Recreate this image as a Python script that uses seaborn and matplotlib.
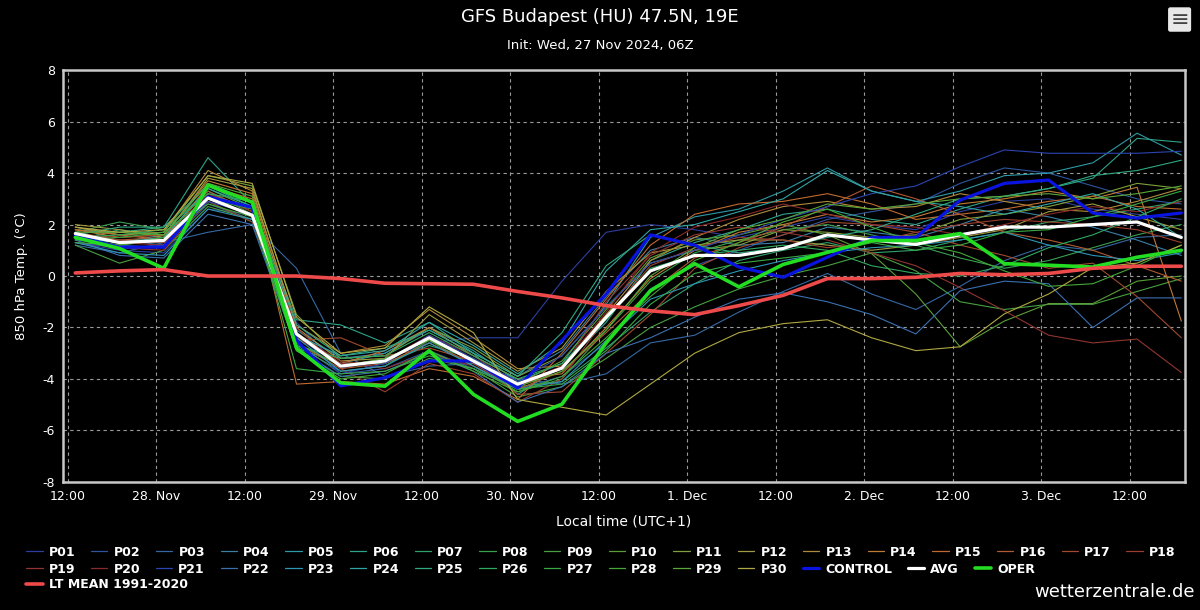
import numpy as np
import pandas as pd
import matplotlib
matplotlib.use("Agg")
import matplotlib.pyplot as plt
from matplotlib.lines import Line2D
import seaborn as sns

# 6-hourly forecast steps, local time (UTC+1)
times = pd.date_range("2024-11-27 13:00", periods=26, freq="6h")

control = [1.55, 1.12, 1.12, 3.07, 2.67, -2.5, -4.27, -3.95, -3.3, -3.3, -4.35, -2.5, -0.7,
           1.6, 1.2, 0.35, -0.05, 0.73, 1.5, 1.5, 2.95, 3.6, 3.73, 2.45, 2.25, 2.45]
avg = [1.65, 1.3, 1.38, 3.03, 2.36, -2.25, -3.5, -3.3, -2.4, -3.3, -4.2, -3.58, -1.6,
       0.2, 0.8, 0.8, 1.07, 1.6, 1.4, 1.23, 1.6, 1.9, 1.9, 2.0, 2.1, 1.5]
oper = [1.5, 1.07, 0.3, 3.53, 2.87, -2.8, -4.15, -4.28, -2.9, -4.6, -5.65, -4.98, -2.6,
        -0.57, 0.48, -0.42, 0.45, 0.92, 1.38, 1.38, 1.65, 0.48, 0.42, 0.35, 0.73, 1.0]
lt_mean = [0.12, 0.2, 0.25, 0.0, 0.0, 0.0, -0.1, -0.28, -0.3, -0.32, -0.6, -0.85, -1.15,
           -1.35, -1.5, -1.15, -0.75, -0.1, -0.1, -0.05, 0.1, 0.05, 0.1, 0.3, 0.38, 0.38]

members = {
    "P01": [1.3, 1.0, 0.9, 2.6, 2.4, -1.8, -3.6, -3.2, -2.6, -2.4, -2.4, -0.2, 1.7, 2.0, 1.8, 1.5, 1.9, 2.3, 2.0, 1.8, 2.5, 2.9, 3.0, 2.6, 2.4, 2.2],
    "P02": [1.4, 1.2, 1.1, 2.8, 2.2, -2.6, -3.8, -3.6, -2.9, -3.6, -4.4, -3.9, -2.6, -0.5, 0.4, 1.0, 1.6, 2.2, 2.5, 2.8, 3.6, 4.2, 4.0, 3.5, 3.0, 2.8],
    "P03": [1.2, 0.9, 1.3, 1.7, 2.0, 0.3, -3.0, -3.9, -3.5, -3.4, -4.0, -4.2, -3.8, -2.6, -2.3, -1.4, -0.6, 0.1, -0.7, -1.3, -0.4, 0.6, 1.2, 1.0, 1.5, 1.6],
    "P04": [1.6, 1.4, 1.2, 3.2, 2.6, -2.1, -3.2, -3.0, -2.1, -3.0, -3.9, -2.9, -0.8, 1.0, 1.5, 1.2, 1.3, 1.9, 1.7, 1.5, 2.0, 2.6, 2.3, 1.9, 1.4, 0.8],
    "P05": [1.5, 1.3, 1.6, 3.6, 2.9, -2.8, -3.4, -3.0, -2.0, -2.9, -4.1, -3.4, -1.1, 1.5, 2.3, 2.6, 3.3, 4.2, 3.3, 2.9, 3.3, 3.9, 4.0, 4.4, 5.55, 4.7],
    "P06": [1.8, 1.7, 1.9, 4.6, 2.8, -1.7, -1.9, -2.6, -1.8, -3.0, -4.6, -3.5, -1.8, 0.6, 1.3, 1.8, 2.4, 2.6, 2.2, 2.0, 2.6, 3.1, 3.4, 3.8, 5.35, 5.2],
    "P07": [1.4, 1.8, 1.6, 2.9, 2.1, -2.4, -3.4, -3.4, -2.7, -3.2, -4.3, -4.1, -2.8, -1.4, -0.3, 0.6, 1.0, 1.3, 0.9, 1.0, 1.4, 1.7, 2.1, 2.3, 2.6, 2.9],
    "P08": [1.7, 2.1, 1.8, 3.3, 2.4, -2.7, -3.7, -3.5, -2.5, -3.5, -4.5, -4.0, -2.1, -0.2, 0.9, 1.4, 1.8, 2.0, 1.6, 1.2, 0.7, 0.3, 0.6, 1.1, 1.6, 2.0],
    "P09": [1.2, 0.5, 1.0, 2.7, 2.2, -2.9, -3.9, -4.0, -3.2, -3.6, -4.7, -4.3, -3.2, -2.0, -1.2, -0.5, 0.0, 0.4, 0.9, 0.2, -1.0, -1.3, -1.1, -1.1, -0.6, -0.1],
    "P10": [1.5, 1.2, 1.4, 3.4, 2.6, -2.3, -3.5, -3.3, -2.4, -3.3, -4.2, -3.3, -1.3, 0.7, 1.4, 1.6, 2.0, 1.6, 0.87, -0.7, -2.75, -1.75, -1.07, -1.07, -0.2, 0.0],
    "P11": [1.9, 1.6, 1.7, 3.9, 3.5, -1.5, -3.2, -3.1, -2.0, -2.8, -3.9, -3.1, -1.2, 0.5, 1.0, 1.2, 1.8, 1.7, 1.5, 1.6, 2.2, 2.4, 2.7, 3.1, 3.6, 3.4],
    "P12": [2.0, 1.8, 1.5, 3.8, 3.4, -2.0, -3.3, -3.2, -1.5, -2.6, -3.7, -2.8, -0.6, 0.9, 1.2, 1.4, 1.4, 1.2, 1.0, 1.2, 1.5, 1.8, 2.5, 2.8, 2.3, 1.8],
    "P13": [1.9, 1.6, 1.7, 4.1, 3.3, -1.9, -3.0, -2.7, -1.3, -2.4, -3.6, -3.5, -1.5, 0.6, 1.5, 2.2, 2.7, 2.9, 2.6, 2.7, 3.2, 2.9, 2.6, 2.5, 2.9, 3.4],
    "P14": [1.8, 1.5, 1.6, 3.7, 3.2, -2.2, -3.4, -2.9, -2.0, -3.1, -4.0, -3.8, -2.0, -0.1, 1.0, 1.7, 2.0, 2.4, 2.1, 2.3, 2.8, 3.0, 3.3, 3.0, 3.45, -1.75],
    "P15": [1.8, 1.6, 1.4, 3.5, 3.0, -4.2, -4.1, -4.2, -3.6, -3.9, -4.8, -3.0, -0.9, 1.2, 2.4, 2.8, 2.9, 3.2, 2.8, 2.2, 2.4, 2.6, 2.9, 3.1, 2.7, 2.6],
    "P16": [1.7, 1.4, 1.5, 3.3, 2.5, -2.6, -3.6, -3.4, -2.6, -3.4, -4.4, -3.7, -2.2, -0.6, 0.7, 1.3, 1.9, 2.7, 3.5, 3.0, 2.4, 1.7, 1.4, 1.0, 0.4, -0.2],
    "P17": [1.6, 1.5, 1.6, 3.1, 2.3, -2.5, -2.4, -3.1, -2.8, -3.3, -4.6, -4.5, -3.0, -1.5, 0.3, 1.1, 1.6, 2.1, 2.0, 1.7, 1.2, 0.8, 0.3, 0.5, -0.8, -2.4],
    "P18": [1.5, 1.4, 1.3, 3.0, 2.4, -2.0, -3.6, -4.5, -3.4, -3.8, -4.9, -4.0, -1.6, 0.4, 1.1, 1.5, 1.4, 1.1, 1.3, 1.7, 2.0, 2.2, 2.1, 2.0, 1.8, 1.3],
    "P19": [1.3, 1.1, 1.0, 2.9, 2.1, -2.3, -3.3, -3.6, -3.0, -3.5, -4.3, -3.6, -1.0, 0.8, 1.6, 1.9, 1.7, 1.4, 0.9, 0.4, -0.45, -1.35, -2.3, -2.6, -2.45, -3.75],
    "P20": [1.6, 1.3, 1.2, 3.2, 2.5, -2.4, -3.4, -3.3, -2.3, -3.1, -4.2, -3.5, -1.4, 0.9, 1.9, 2.3, 2.8, 2.4, 2.0, 1.9, 1.6, 2.0, 2.4, 2.7, 2.5, 2.9],
    "P21": [1.3, 1.1, 1.2, 2.9, 2.4, -2.2, -3.8, -3.4, -2.3, -3.2, -4.1, -3.1, -1.2, 0.5, 1.0, 1.6, 2.2, 2.7, 3.2, 3.5, 4.25, 4.9, 4.77, 4.77, 4.77, 4.85],
    "P22": [1.4, 0.8, 0.7, 2.4, 2.0, -2.8, -3.9, -3.7, -3.0, -3.7, -4.9, -4.3, -3.0, -2.4, -1.6, -0.9, -0.65, -1.0, -1.5, -2.25, -0.57, -0.2, -0.3, -2.0, -0.85, -0.85],
    "P23": [1.3, 0.9, 0.8, 2.6, 2.2, -2.4, -3.7, -3.5, -2.6, -3.5, -4.4, -4.1, -2.5, -0.9, -0.3, 0.2, 0.6, 0.9, 1.1, 1.2, 1.4, 1.7, 1.2, 0.8, 0.6, 0.9],
    "P24": [1.5, 1.3, 1.5, 3.4, 2.7, -2.3, -3.1, -2.9, -1.8, -2.7, -3.8, -2.6, 0.2, 1.8, 2.0, 2.5, 3.0, 4.1, 3.3, 2.9, 2.7, 2.4, 2.8, 3.2, 2.6, 1.5],
    "P25": [1.6, 1.9, 1.9, 3.5, 2.7, -1.9, -3.1, -2.8, -2.1, -3.0, -3.9, -2.2, 0.4, 1.6, 1.2, 0.9, 1.1, 1.5, 1.8, 2.4, 3.0, 3.1, 3.4, 3.9, 4.1, 4.5],
    "P26": [1.5, 1.6, 1.8, 3.2, 2.9, -2.7, -3.2, -3.1, -2.2, -3.1, -4.0, -3.4, -1.7, 0.3, 0.8, 1.0, 1.2, 1.0, 0.4, 0.1, 0.0, 0.4, 1.1, 1.6, 2.3, 3.0],
    "P27": [1.4, 1.5, 1.7, 3.0, 2.6, -3.6, -3.8, -3.7, -3.1, -3.6, -4.4, -4.2, -2.9, -1.1, 0.1, 0.5, 0.7, 0.9, 1.3, 1.0, 1.2, 1.7, 1.8, 2.3, 2.8, 3.3],
    "P28": [1.3, 1.2, 1.5, 2.8, 2.3, -2.9, -4.0, -3.8, -2.9, -3.7, -4.5, -3.9, -2.4, -0.8, 0.6, 1.3, 2.1, 2.6, 1.9, 1.3, 0.9, 0.2, -0.4, -0.3, 0.4, 1.2],
    "P29": [1.7, 1.7, 1.6, 3.6, 3.1, -2.6, -3.5, -3.2, -2.5, -3.3, -4.3, -3.7, -2.1, 0.0, 1.1, 1.8, 2.2, 2.8, 2.6, 2.8, 3.0, 3.1, 3.2, 3.0, 3.2, 3.5],
    "P30": [1.9, 1.7, 1.8, 3.9, 3.6, -1.6, -3.0, -2.8, -1.2, -2.2, -4.8, -5.1, -5.4, -4.2, -3.0, -2.2, -1.85, -1.7, -2.4, -2.9, -2.75, -1.47, -0.7, 0.33, 0.5, 1.2],
}

member_colors = [
    "#2b3f9e", "#2f55a0", "#3568a3", "#3a7fa6", "#2f9aa6", "#2ea38a", "#30a06a", "#3aa050",
    "#48a040", "#5a9e38", "#7fa03a", "#a09a40", "#b08a3a", "#c07a35", "#c06a30", "#b05a30",
    "#a04a2e", "#9a3e2e", "#903530", "#8a2a2a", "#2a45b0", "#3a70b0", "#2f95b5", "#30a5a5",
    "#30a880", "#30a860", "#38a845", "#42a838", "#5aa838", "#b0a840",
]

tick_times = pd.date_range("2024-11-27 12:00", "2024-12-03 12:00", freq="12h")

df = pd.DataFrame({"time": np.tile(times, len(members)),
                   "member": np.repeat(list(members.keys()), len(times)),
                   "temp": np.concatenate(list(members.values()))})

sns.set_style("dark")
plt.rcParams["font.family"] = ["DejaVu Sans"]
plt.rcParams["axes.unicode_minus"] = False

fig = plt.figure(figsize=(12, 6.1), dpi=100, facecolor="black")
ax = fig.add_axes([0.0525, 0.21, 0.935, 0.675])
ax.set_facecolor("black")

sns.lineplot(data=df, x="time", y="temp", hue="member", palette=member_colors,
             linewidth=0.8, legend=False, ax=ax)
sns.lineplot(x=times, y=control, color="#0a14e0", linewidth=2.3, ax=ax)
sns.lineplot(x=times, y=avg, color="white", linewidth=2.3, ax=ax)
sns.lineplot(x=times, y=oper, color="#22dd22", linewidth=2.6, ax=ax)
sns.lineplot(x=times, y=lt_mean, color="#ee4a4a", linewidth=2.6, ax=ax)

ax.set_ylim(-8, 8)
ax.set_yticks(range(-8, 9, 2))
ax.set_xlim(pd.Timestamp("2024-11-27 11:20"), pd.Timestamp("2024-12-03 19:30"))
ax.set_xticks(tick_times)
ax.set_xticklabels([t.strftime("%H:%M") if t.hour == 12 else f"{t.day}. {t.strftime('%b')}"
                    for t in tick_times])

ax.grid(True, color="#9a9a9a", linestyle=(0, (3, 3)), linewidth=0.8)
for s in ax.spines.values():
    s.set_color("#c8c8c8")
    s.set_linewidth(1.8)
ax.tick_params(colors="white", labelsize=9, length=0, pad=6)

ax.set_xlabel("Local time (UTC+1)", color="white", fontsize=10, labelpad=8)
ax.set_ylabel("850 hPa Temp. (°C)", color="white", fontsize=9.5, labelpad=10)

fig.text(0.5, 0.972, "GFS Budapest (HU) 47.5N, 19E", color="white", fontsize=13,
         ha="center", va="center")
fig.text(0.5, 0.925, "Init: Wed, 27 Nov 2024, 06Z", color="white", fontsize=9.5,
         ha="center", va="center")
fig.text(0.983, 0.968, "≡", color="#444444", fontsize=16, ha="center", va="center",
         bbox=dict(boxstyle="round,pad=0.1", fc="#e8e8e8", ec="none"))
fig.text(0.996, 0.015, "wetterzentrale.de", color="white", fontsize=13,
         ha="right", va="bottom")

# legend rows
names = list(members.keys())
row1 = [Line2D([], [], color=c, lw=0.9) for c in member_colors[:18]]
row2 = [Line2D([], [], color=c, lw=0.9) for c in member_colors[18:]] + [
    Line2D([], [], color="#0a14e0", lw=2.3),
    Line2D([], [], color="white", lw=2.3),
    Line2D([], [], color="#22dd22", lw=2.6)]
row3 = [Line2D([], [], color="#ee4a4a", lw=2.6)]
labels2 = names[18:] + ["CONTROL", "AVG", "OPER"]
leg_kw = dict(loc="center left", frameon=False, borderpad=0, borderaxespad=0,
              handlelength=1.3, handletextpad=0.5, columnspacing=1.25,
              prop={"weight": "bold", "size": 9}, labelcolor="white")
for handles, labels, y in [(row1, names[:18], 0.095), (row2, labels2, 0.067),
                           (row3, ["LT MEAN 1991-2020"], 0.041)]:
    fig.legend(handles, labels, ncol=len(handles), bbox_to_anchor=(0.022, y), **leg_kw)

fig.savefig("out.png", dpi=100, facecolor="black")
